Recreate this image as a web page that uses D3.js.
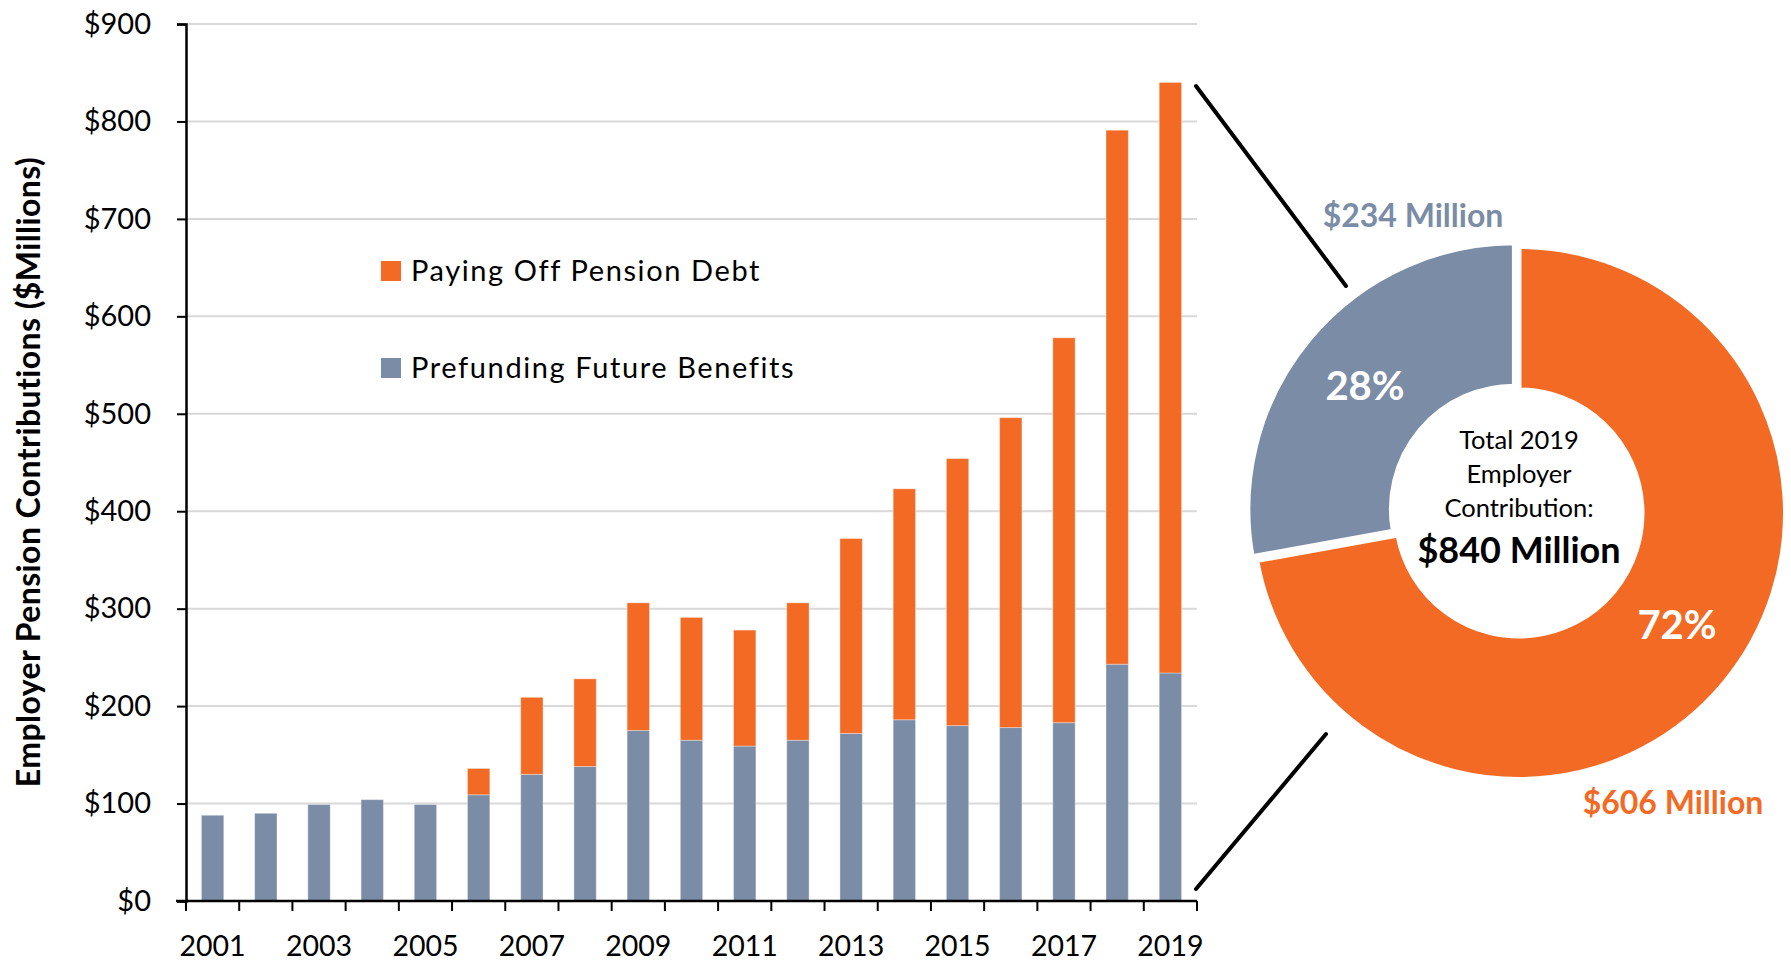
<!DOCTYPE html>
<html>
<head>
<meta charset="utf-8">
<script src="https://cdn.jsdelivr.net/npm/d3@7/dist/d3.min.js"></script>
<style>
  html, body { margin: 0; padding: 0; background: #fff; }
  svg { display: block; font-family: Lato, "Open Sans", sans-serif; }
</style>
</head>
<body>
<svg id="chart" width="1791" height="962"></svg>
<script>
// ---- data ----
const years = ["2001","2002","2003","2004","2005","2006","2007","2008","2009","2010",
               "2011","2012","2013","2014","2015","2016","2017","2018","2019"];
const prefunding = [88, 90, 99, 104, 99, 109, 130, 138, 175, 165, 159, 165, 172, 186, 180, 178, 183, 243, 234];
const debt       = [0, 0, 0, 0, 0, 27, 79, 90, 131, 126, 119, 141, 200, 237, 274, 318, 395, 548, 606];
const yTicks = [0, 100, 200, 300, 400, 500, 600, 700, 800, 900];
const xLabelYears = ["2001","2003","2005","2007","2009","2011","2013","2015","2017","2019"];
const seriesNames = ["Paying Off Pension Debt", "Prefunding Future Benefits"];
const pieValues = [606, 234];
const pieAmountLabels = ["$606 Million", "$234 Million"];
const piePctLabels = ["72%", "28%"];
const centerLines = ["Total 2019", "Employer", "Contribution:"];
const centerTotal = "$840 Million";
const yTitle = "Employer Pension Contributions ($Millions)";

(function () {
// ---- style ----
const ORANGE = "#F26A24";
const BLUE = "#7B8CA6";
const GRID = "#D9D9D9";

const svg = d3.select("#chart");

// ---- bar chart ----
const pLeft = 186, pRight = 1197, pTop = 24, pBottom = 901;
const x = d3.scaleBand().domain(years).range([pLeft, pRight]).paddingInner(0.58).paddingOuter(0.29);
const y = d3.scaleLinear().domain([0, 900]).range([pBottom, pTop]);

// gridlines
svg.append("g").selectAll("line").data(yTicks.filter(d => d > 0)).join("line")
  .attr("x1", pLeft).attr("x2", pRight)
  .attr("y1", d => y(d)).attr("y2", d => y(d))
  .attr("stroke", GRID).attr("stroke-width", 2);

// stacked bars
const rows = years.map((yr, i) => ({ year: yr, prefunding: prefunding[i], debt: debt[i] }));
const stacked = d3.stack().keys(["prefunding", "debt"])(rows);
const colors = { prefunding: BLUE, debt: ORANGE };

svg.append("g").selectAll("g").data(stacked).join("g")
  .attr("fill", d => colors[d.key])
  .selectAll("rect").data(d => d.filter(s => s[1] - s[0] > 0)).join("rect")
  .attr("x", d => x(d.data.year))
  .attr("width", x.bandwidth())
  .attr("y", d => y(d[1]))
  .attr("height", d => y(d[0]) - y(d[1]))
  .attr("stroke", "#fff").attr("stroke-opacity", 0.35).attr("stroke-width", 1);

// y axis
const yAxis = svg.append("g").attr("transform", `translate(${pLeft},0)`)
  .call(d3.axisLeft(y).tickValues(yTicks).tickFormat(d => "$" + d).tickSize(9).tickPadding(26));
yAxis.select(".domain").attr("stroke", "#000").attr("stroke-width", 2.5);
yAxis.selectAll(".tick line").attr("stroke", "#000").attr("stroke-width", 2);
yAxis.selectAll(".tick text").attr("font-size", 29).attr("fill", "#000")
  .attr("font-family", "Lato, sans-serif");

// x axis: tick marks at category boundaries, labels every other year
const step = x.step();
const boundaries = years.map(yr => x(yr) - step * x.paddingInner() / 2).concat([pRight]);
const xg = svg.append("g");
xg.append("line").attr("x1", pLeft - 10).attr("x2", pRight).attr("y1", pBottom).attr("y2", pBottom)
  .attr("stroke", "#000").attr("stroke-width", 2.5);
xg.selectAll("line.tk").data(boundaries).join("line").attr("class", "tk")
  .attr("x1", d => d).attr("x2", d => d).attr("y1", pBottom).attr("y2", pBottom + 10)
  .attr("stroke", "#000").attr("stroke-width", 2);
xg.selectAll("text").data(xLabelYears).join("text")
  .attr("x", d => x(d) + x.bandwidth() / 2).attr("y", pBottom + 55)
  .attr("text-anchor", "middle").attr("font-size", 28.5).attr("fill", "#000")
  .text(d => d);

// y title
svg.append("text")
  .attr("transform", `translate(40,472) rotate(-90)`)
  .attr("text-anchor", "middle").attr("font-size", 32).attr("font-weight", "bold")
  .attr("letter-spacing", 0.4)
  .attr("fill", "#000").text(yTitle);

// legend
const legend = svg.append("g");
const legendColors = [ORANGE, BLUE];
seriesNames.forEach((name, i) => {
  const ly = 271 + i * 97;
  legend.append("rect").attr("x", 381).attr("y", ly - 10).attr("width", 20).attr("height", 20)
    .attr("fill", legendColors[i]);
  legend.append("text").attr("x", 411).attr("y", ly + 10).attr("font-size", 29)
    .attr("letter-spacing", 1.6)
    .attr("fill", "#000").text(name);
});

// ---- donut ----
const cx = 1519, cy = 513, rOuter = 266.5, rInner = 123;
const pie = d3.pie().sort(null).startAngle(0).endAngle(2 * Math.PI);
const arcs = pie(pieValues);
const arc = d3.arc().innerRadius(rInner).outerRadius(rOuter);
const pieColors = [ORANGE, BLUE];
const explode = [0, 6];

const dg = svg.append("g").attr("transform", `translate(${cx},${cy})`);
dg.selectAll("path").data(arcs).join("path")
  .attr("d", arc)
  .attr("fill", (d, i) => pieColors[i])
  .attr("stroke", "#fff").attr("stroke-width", 5)
  .attr("transform", (d, i) => {
    const a = (d.startAngle + d.endAngle) / 2;
    return `translate(${Math.sin(a) * explode[i]},${-Math.cos(a) * explode[i]})`;
  });

// percent labels
const pctPos = [[1677, 639], [1365, 400]];
piePctLabels.forEach((t, i) => {
  svg.append("text").attr("x", pctPos[i][0]).attr("y", pctPos[i][1])
    .attr("text-anchor", "middle").attr("font-size", 40).attr("font-weight", "bold")
    .attr("fill", "#fff").text(t);
});

// amount labels
const amtPos = [[1673, 814], [1413, 227]];
const amtColors = [ORANGE, BLUE];
pieAmountLabels.forEach((t, i) => {
  svg.append("text").attr("x", amtPos[i][0]).attr("y", amtPos[i][1])
    .attr("text-anchor", "middle").attr("font-size", 32).attr("font-weight", "bold")
    .attr("fill", amtColors[i]).text(t);
});

// center text
centerLines.forEach((t, i) => {
  svg.append("text").attr("x", cx).attr("y", 449 + i * 34)
    .attr("text-anchor", "middle").attr("font-size", 25.5).attr("fill", "#000").text(t);
});
svg.append("text").attr("x", cx).attr("y", 563)
  .attr("text-anchor", "middle").attr("font-size", 36).attr("font-weight", "bold")
  .attr("fill", "#000").text(centerTotal);

// connector lines
const conn = [[[1196, 86], [1346, 286]], [[1196, 889], [1326, 734]]];
svg.append("g").selectAll("line").data(conn).join("line")
  .attr("x1", d => d[0][0]).attr("y1", d => d[0][1])
  .attr("x2", d => d[1][0]).attr("y2", d => d[1][1])
  .attr("stroke", "#000").attr("stroke-width", 4).attr("stroke-linecap", "round");
})();
</script>
</body>
</html>
